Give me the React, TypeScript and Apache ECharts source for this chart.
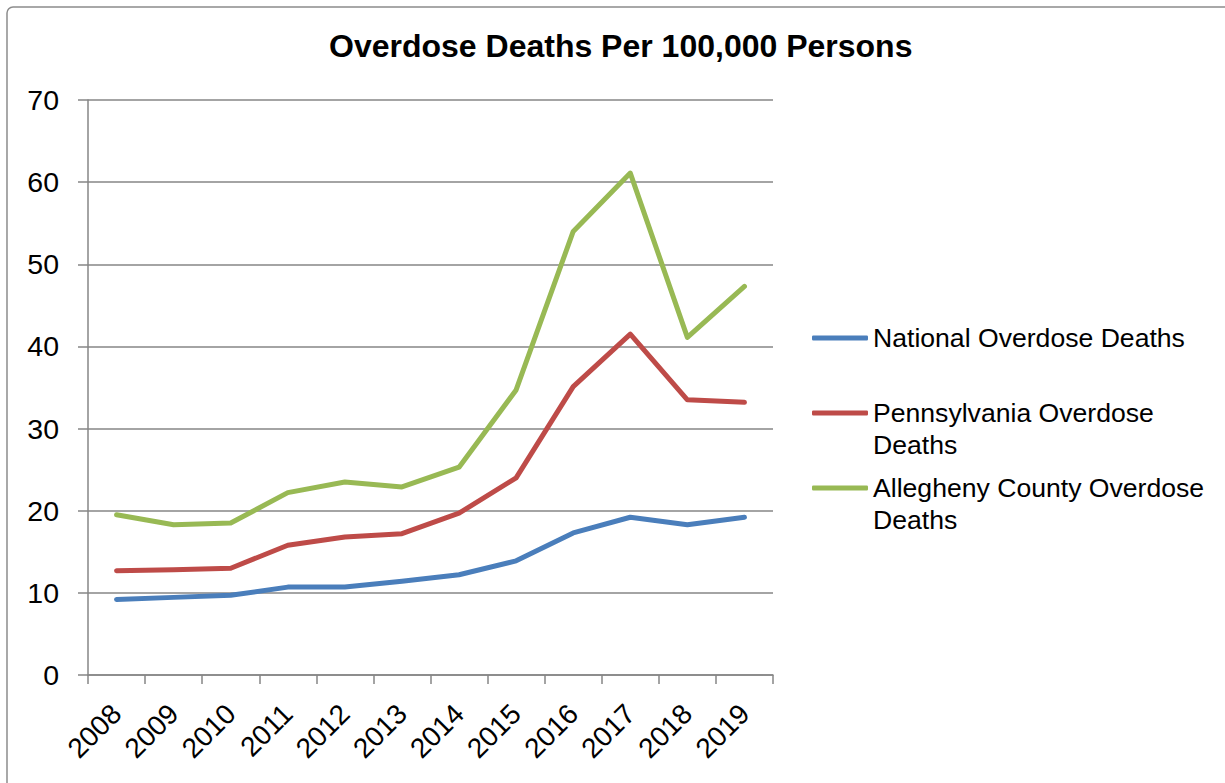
import React, { useEffect, useRef } from "react";
import * as echarts from "echarts";

const years = ["2008", "2009", "2010", "2011", "2012", "2013", "2014", "2015", "2016", "2017", "2018", "2019"];
const national = [9.2, 9.45, 9.7, 10.7, 10.7, 11.4, 12.2, 13.9, 17.3, 19.2, 18.3, 19.2];
const pennsylvania = [12.7, 12.8, 13.0, 15.8, 16.8, 17.2, 19.7, 24.0, 35.1, 41.5, 33.5, 33.2];
const allegheny = [19.5, 18.3, 18.5, 22.2, 23.5, 22.9, 25.3, 34.7, 54.0, 61.1, 41.1, 47.3];
const seriesNames = ["National Overdose Deaths", "Pennsylvania Overdose Deaths", "Allegheny County Overdose Deaths"];
const legendLabels = ["National Overdose Deaths", "\nPennsylvania Overdose\nDeaths", "\nAllegheny County Overdose\nDeaths"];
const colors = ["#4A7EBB", "#BE4B48", "#98B954"];
const titleText = "Overdose Deaths Per 100,000 Persons";

export default function App() {
  const ref = useRef<HTMLDivElement>(null);
  useEffect(() => {
    if (!ref.current) return;
    const chart = echarts.init(ref.current, undefined, { renderer: "svg" });
    const font = "'Liberation Sans', Arial, sans-serif";
    const legendTops = [322, 365, 440];
    const legends = seriesNames.map((name, i) => ({
      show: true,
      orient: "vertical" as const,
      left: 812,
      top: legendTops[i],
      padding: 0,
      icon: "roundRect",
      itemWidth: 56,
      itemHeight: 5,
      itemGap: 0,
      data: [name],
      selectedMode: false,
      formatter: () => legendLabels[i],
      textStyle: {
        fontFamily: font,
        fontSize: 26.6,
        color: "#000",
        lineHeight: 32,
      },
    }));
    const data = [national, pennsylvania, allegheny];
    chart.setOption({
      animation: false,
      backgroundColor: "#fff",
      title: {
        text: titleText,
        left: 329,
        top: 30,
        padding: 0,
        textStyle: { fontFamily: font, fontSize: 32, fontWeight: "bold", color: "#000" },
      },
      graphic: [
        {
          type: "rect",
          shape: { x: 7, y: 7, width: 1240, height: 800, r: 6 },
          style: { fill: "none", stroke: "#8c8c8c", lineWidth: 1.5 },
          silent: true,
        },
      ],
      legend: legends,
      grid: { left: 88, right: 452, top: 100, bottom: 108, containLabel: false },
      xAxis: {
        type: "category",
        data: years,
        boundaryGap: true,
        axisLine: { show: true, lineStyle: { color: "#868686", width: 1.5 } },
        axisTick: { show: true, length: 9, interval: 0, lineStyle: { color: "#868686", width: 1.5 } },
        axisLabel: {
          interval: 0,
          rotate: 45,
          margin: 34,
          fontFamily: font,
          fontSize: 28,
          color: "#000",
        },
      },
      yAxis: {
        type: "value",
        min: 0,
        max: 70,
        interval: 10,
        axisLine: { show: true, lineStyle: { color: "#868686", width: 1.5 } },
        axisTick: { show: true, inside: false, length: 10, lineStyle: { color: "#868686", width: 1.5 } },
        splitLine: { show: true, lineStyle: { color: "#868686", width: 1.5 } },
        axisLabel: { margin: 29, fontFamily: font, fontSize: 28.5, color: "#000" },
      },
      series: seriesNames.map((name, i) => ({
        name,
        type: "line",
        data: data[i],
        symbol: "none",
        color: colors[i],
        lineStyle: { color: colors[i], width: 5, cap: "round", join: "round" },
        itemStyle: { color: colors[i] },
      })),
    });
    return () => chart.dispose();
  }, []);
  return (
    <div
      ref={ref}
      style={{ position: "fixed", left: 0, top: 0, width: 1225, height: 783 }}
    />
  );
}
